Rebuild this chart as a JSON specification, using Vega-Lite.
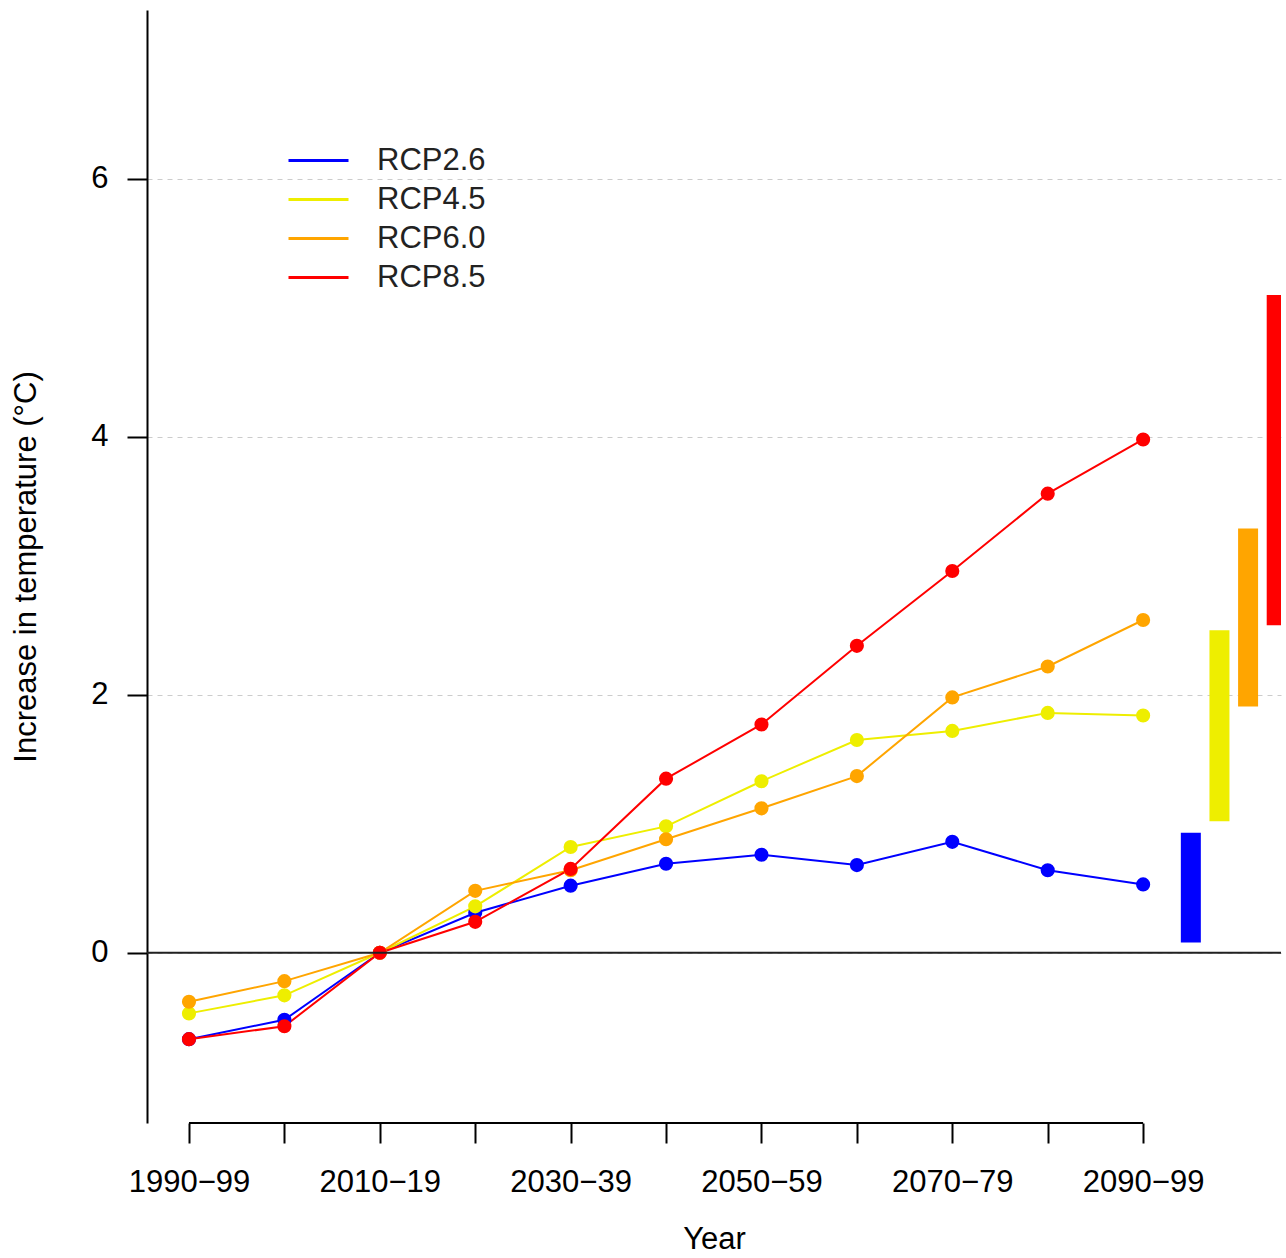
{
  "$schema": "https://vega.github.io/schema/vega-lite/v6.json",
  "width": 1134,
  "height": 1113,
  "autosize": {"type": "none"},
  "padding": {"left": 147, "top": 10, "right": 5, "bottom": 135},
  "config": {
    "font": "Liberation Sans",
    "view": {"stroke": null},
    "axis": {"labelColor": "#000000", "titleColor": "#000000", "titleFontWeight": "normal"}
  },
  "datasets": {
    "series": [
      {"scenario": "RCP2.6", "year": 1990, "value": -0.67},
      {"scenario": "RCP2.6", "year": 2000, "value": -0.52},
      {"scenario": "RCP2.6", "year": 2010, "value": 0},
      {"scenario": "RCP2.6", "year": 2020, "value": 0.31},
      {"scenario": "RCP2.6", "year": 2030, "value": 0.52},
      {"scenario": "RCP2.6", "year": 2040, "value": 0.69},
      {"scenario": "RCP2.6", "year": 2050, "value": 0.76},
      {"scenario": "RCP2.6", "year": 2060, "value": 0.68},
      {"scenario": "RCP2.6", "year": 2070, "value": 0.86},
      {"scenario": "RCP2.6", "year": 2080, "value": 0.64},
      {"scenario": "RCP2.6", "year": 2090, "value": 0.53},
      {"scenario": "RCP4.5", "year": 1990, "value": -0.47},
      {"scenario": "RCP4.5", "year": 2000, "value": -0.33},
      {"scenario": "RCP4.5", "year": 2010, "value": 0},
      {"scenario": "RCP4.5", "year": 2020, "value": 0.36},
      {"scenario": "RCP4.5", "year": 2030, "value": 0.82},
      {"scenario": "RCP4.5", "year": 2040, "value": 0.98},
      {"scenario": "RCP4.5", "year": 2050, "value": 1.33},
      {"scenario": "RCP4.5", "year": 2060, "value": 1.65},
      {"scenario": "RCP4.5", "year": 2070, "value": 1.72},
      {"scenario": "RCP4.5", "year": 2080, "value": 1.86},
      {"scenario": "RCP4.5", "year": 2090, "value": 1.84},
      {"scenario": "RCP6.0", "year": 1990, "value": -0.38},
      {"scenario": "RCP6.0", "year": 2000, "value": -0.22},
      {"scenario": "RCP6.0", "year": 2010, "value": 0},
      {"scenario": "RCP6.0", "year": 2020, "value": 0.48},
      {"scenario": "RCP6.0", "year": 2030, "value": 0.64},
      {"scenario": "RCP6.0", "year": 2040, "value": 0.88},
      {"scenario": "RCP6.0", "year": 2050, "value": 1.12},
      {"scenario": "RCP6.0", "year": 2060, "value": 1.37},
      {"scenario": "RCP6.0", "year": 2070, "value": 1.98},
      {"scenario": "RCP6.0", "year": 2080, "value": 2.22},
      {"scenario": "RCP6.0", "year": 2090, "value": 2.58},
      {"scenario": "RCP8.5", "year": 1990, "value": -0.67},
      {"scenario": "RCP8.5", "year": 2000, "value": -0.57},
      {"scenario": "RCP8.5", "year": 2010, "value": 0},
      {"scenario": "RCP8.5", "year": 2020, "value": 0.24},
      {"scenario": "RCP8.5", "year": 2030, "value": 0.65},
      {"scenario": "RCP8.5", "year": 2040, "value": 1.35},
      {"scenario": "RCP8.5", "year": 2050, "value": 1.77},
      {"scenario": "RCP8.5", "year": 2060, "value": 2.38},
      {"scenario": "RCP8.5", "year": 2070, "value": 2.96},
      {"scenario": "RCP8.5", "year": 2080, "value": 3.56},
      {"scenario": "RCP8.5", "year": 2090, "value": 3.98}
    ],
    "ranges": [
      {"scenario": "RCP2.6", "year": 2095, "low": 0.08, "high": 0.93},
      {"scenario": "RCP4.5", "year": 2098, "low": 1.02, "high": 2.5},
      {"scenario": "RCP6.0", "year": 2101, "low": 1.91, "high": 3.29},
      {"scenario": "RCP8.5", "year": 2104, "low": 2.54, "high": 5.1}
    ]
  },
  "layer": [
    {
      "data": {"name": "series"},
      "mark": {"type": "line", "strokeWidth": 2},
      "encoding": {
        "x": {
          "field": "year", "type": "quantitative",
          "scale": {"domain": [1985.6, 2104.45], "nice": false, "zero": false},
          "axis": {
            "values": [1990, 2000, 2010, 2020, 2030, 2040, 2050, 2060, 2070, 2080, 2090],
            "labelExpr": "(datum.value - 1990) % 20 == 0 ? datum.value + '\u2212' + (datum.value % 100 + 9) : ''",
            "domain": false, "grid": false,
            "tickSize": 20, "tickWidth": 2, "tickColor": "#000000",
            "labelFontSize": 31, "labelPadding": 24, "labelFlush": false, "labelOverlap": false,
            "title": "Year", "titleFontSize": 31, "titlePadding": 27
          }
        },
        "y": {
          "field": "value", "type": "quantitative",
          "scale": {"domain": [-1.32, 7.31], "nice": false, "zero": false},
          "axis": {
            "values": [0, 2, 4, 6],
            "format": "d",
            "domain": true, "domainColor": "#000000", "domainWidth": 2,
            "grid": true, "gridDash": [5, 5], "gridColor": "#cccccc", "gridWidth": 1,
            "tickSize": 20, "tickWidth": 2, "tickColor": "#000000",
            "labelFontSize": 31, "labelPadding": 19,
            "title": "Increase in temperature (°C)", "titleFontSize": 31, "titlePadding": 48
          }
        },
        "color": {
          "field": "scenario", "type": "nominal",
          "scale": {"domain": ["RCP2.6", "RCP4.5", "RCP6.0", "RCP8.5"], "range": ["#0000FF", "#EEEE00", "#FFA500", "#FF0000"]},
          "legend": {
            "orient": "none", "legendX": 156, "legendY": 135, "title": null,
            "symbolType": "M-3,0H3", "symbolSize": 400, "symbolStrokeWidth": 3,
            "labelFontSize": 31, "labelOffset": 43, "rowPadding": 7, "padding": 0,
            "labelColor": "#222222"
          }
        }
      }
    },
    {
      "data": {"name": "series"},
      "mark": {"type": "circle", "size": 200, "opacity": 1},
      "encoding": {
        "x": {"field": "year", "type": "quantitative"},
        "y": {"field": "value", "type": "quantitative"},
        "color": {"field": "scenario", "type": "nominal", "legend": null}
      }
    },
    {
      "data": {"values": [{}]},
      "mark": {"type": "rule", "color": "#222222", "strokeWidth": 2},
      "encoding": {"y": {"datum": 0}}
    },
    {
      "data": {"values": [{}]},
      "mark": {"type": "rule", "color": "#000000", "strokeWidth": 2},
      "encoding": {"x": {"datum": 1990}, "x2": {"datum": 2090}, "y": {"datum": -1.32}}
    },
    {
      "data": {"name": "ranges"},
      "mark": {"type": "rule", "strokeWidth": 20, "strokeCap": "butt", "clip": true},
      "encoding": {
        "x": {"field": "year", "type": "quantitative"},
        "y": {"field": "low", "type": "quantitative"},
        "y2": {"field": "high"},
        "color": {"field": "scenario", "type": "nominal", "legend": null}
      }
    }
  ]
}
